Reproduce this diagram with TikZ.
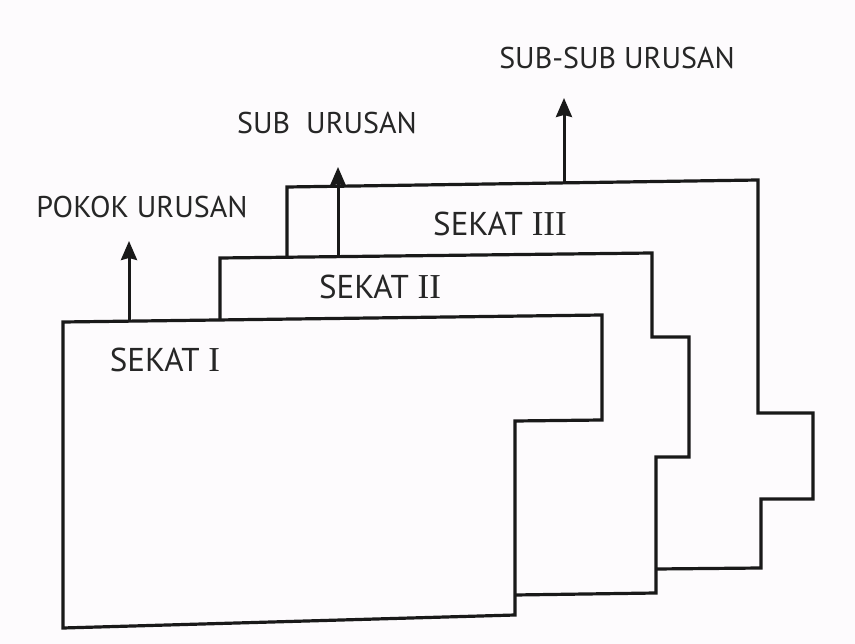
\documentclass[tikz,border=0pt]{standalone}
\usepackage{fontspec}
\setmainfont{PT Sans}
\newfontfamily\romawi{Liberation Serif}
\usetikzlibrary{arrows.meta}
\definecolor{paper}{RGB}{253,251,253}
\newcommand{\rmn}[1]{\ {\romawi\fontsize{35}{38}\selectfont #1}}
\tikzset{
  sheet/.style={line width=3.2pt, line join=miter, fill=paper, draw=black!90},
  uparrow/.style={line width=3pt, draw=black!90, -{Stealth[length=19pt,width=16pt,inset=2pt]}},
  lbl/.style={inner sep=0pt, font=\fontsize{30}{34}\selectfont, text=black!85},
  sekat/.style={lbl, font=\fontsize{33}{36}\selectfont}
}
\begin{document}
\begin{tikzpicture}[x=1pt,y=-1pt]
 \fill[paper] (0,0) rectangle (855,644); %背景
 \useasboundingbox (0,0) rectangle (855,644);
 % 枠III
 \coordinate (C1) at (287,257); %左下
 \coordinate (C2) at (287,187); %左上
 \coordinate (C3) at (758,180); %右上
 \coordinate (C4) at (758,413);
 \coordinate (C5) at (813,413);
 \coordinate (C6) at (813,499);
 \coordinate (C7) at (761,499);
 \coordinate (C8) at (761,568);
 \coordinate (C9) at (656,569); %枠IIとの交点
 \draw[sheet] (C1)--(C2)--(C3)--(C4)--(C5)--(C6)--(C7)--(C8)--(C9);
 % 枠II
 \coordinate (B1) at (220,320); %左下
 \coordinate (B2) at (220,258); %左上
 \coordinate (B3) at (652,253); %右上
 \coordinate (B4) at (652,337);
 \coordinate (B5) at (689,337);
 \coordinate (B6) at (689,457);
 \coordinate (B7) at (656,457);
 \coordinate (B8) at (656,593);
 \coordinate (B9) at (515,595); %枠Iとの交点
 \draw[sheet] (B1)--(B2)--(B3)--(B4)--(B5)--(B6)--(B7)--(B8)--(B9);
 % 枠I
 \coordinate (A1) at (63,322); %左上
 \coordinate (A2) at (602,315); %右上
 \coordinate (A3) at (602,420);
 \coordinate (A4) at (515,421);
 \coordinate (A5) at (515,615);
 \coordinate (A6) at (63,628); %左下
 \draw[sheet] (A1)--(A2)--(A3)--(A4)--(A5)--(A6)--cycle;
 % 矢印
 \coordinate (pokokB) at (129,320);
 \coordinate (pokokT) at (129,241);
 \coordinate (subB) at (338,256);
 \coordinate (subT) at (338,167);
 \coordinate (subsubB) at (564,182);
 \coordinate (subsubT) at (564,98);
 \draw[uparrow] (pokokB)--(pokokT);
 \draw[uparrow] (subB)--(subT);
 \draw[uparrow] (subsubB)--(subsubT);
 % ラベル
 \node[lbl] (pokok) at (142,207) {POKOK URUSAN};
 \node[lbl] (sub) at (327,123) {SUB\ \ URUSAN};
 \node[lbl] (subsub) at (617,58) {SUB-SUB URUSAN};
 \node[sekat] (sekatI) at (165,360) {SEKAT\rmn{I}};
 \node[sekat] (sekatII) at (380,287) {SEKAT\rmn{II}};
 \node[sekat] (sekatIII) at (500,224) {SEKAT\rmn{III}};
\end{tikzpicture}
\end{document}
